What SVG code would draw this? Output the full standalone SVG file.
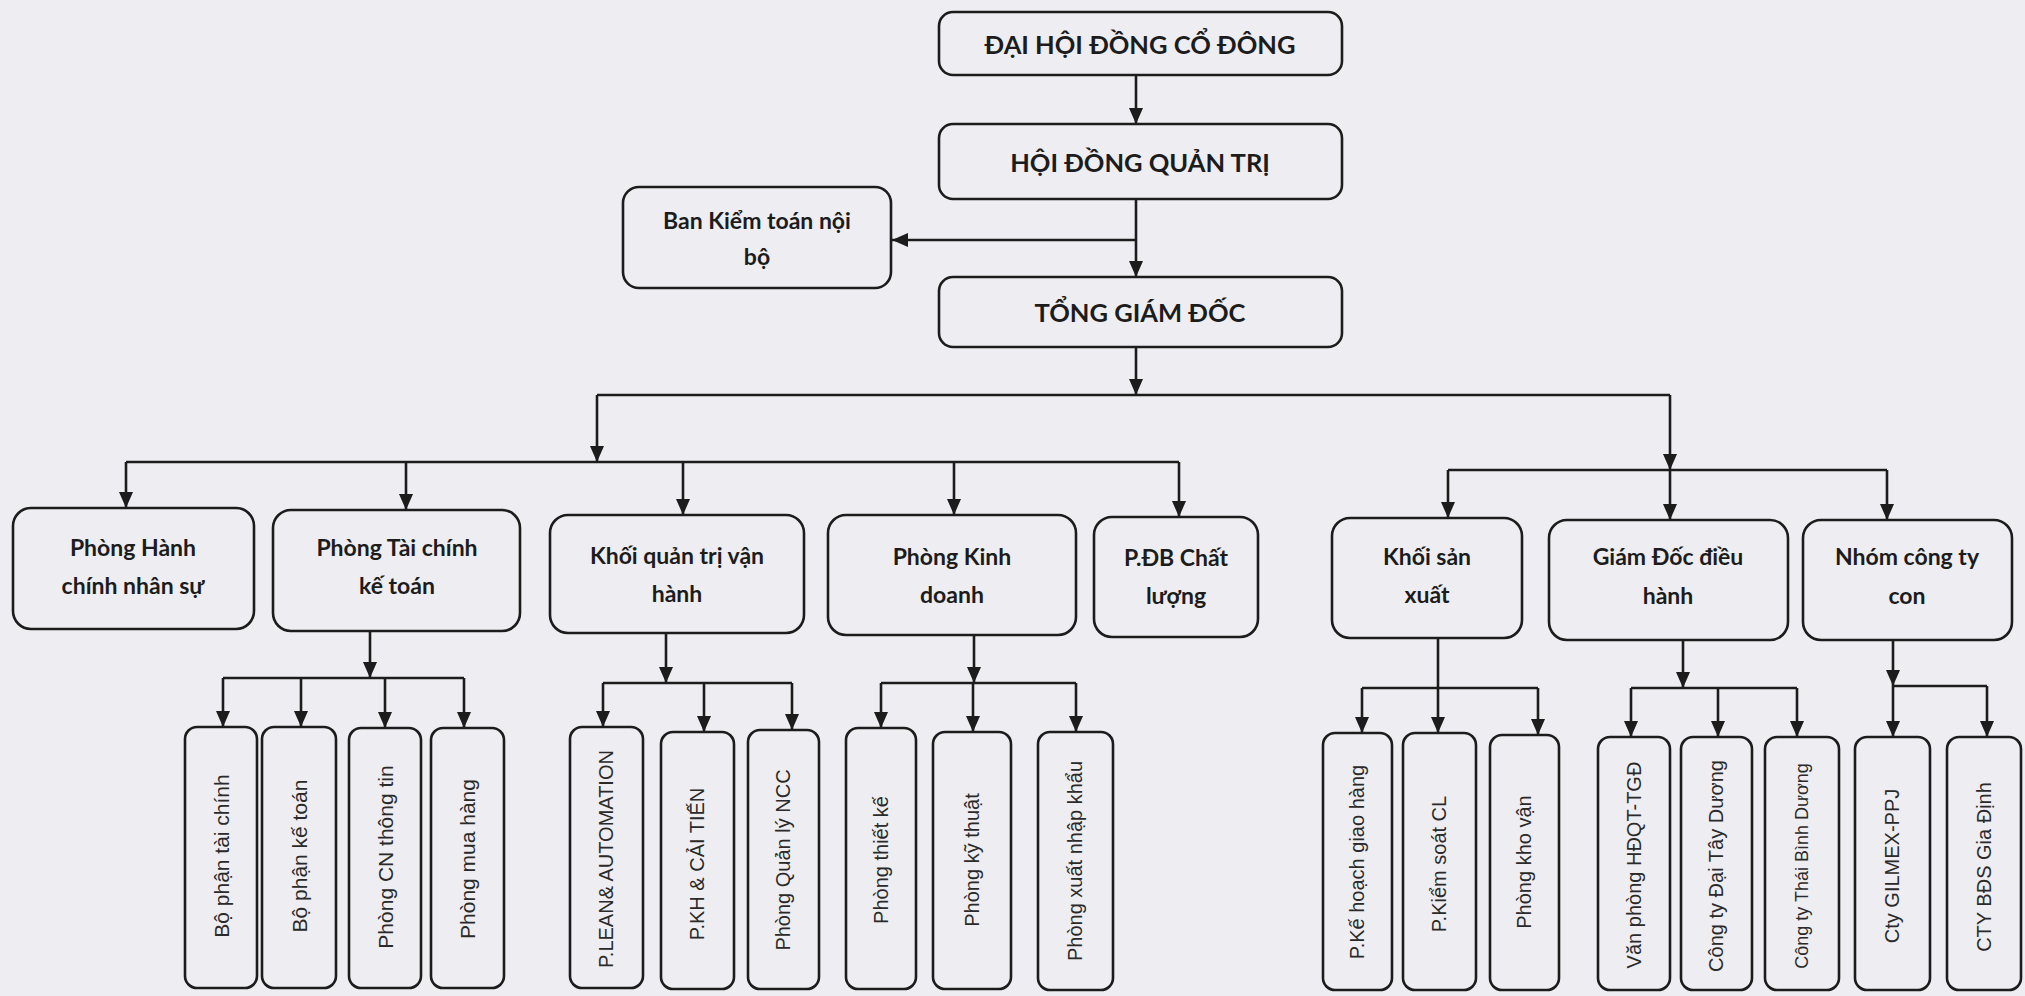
<svg xmlns="http://www.w3.org/2000/svg" width="2025" height="996" viewBox="0 0 2025 996">
<style>
.bg{fill:#eeeef2}
.box{fill:none;stroke:#1c1c1c;stroke-width:2.6}
.c{fill:none;stroke:#1c1c1c;stroke-width:2.6}
.a{marker-end:url(#ah)}
.t1{font-family:Lato,"Noto Sans",sans-serif;font-weight:bold;font-size:25.5px;fill:#1c1c1c;text-anchor:middle}
.t2{font-family:Lato,"Noto Sans",sans-serif;font-weight:bold;font-size:23px;fill:#1c1c1c;text-anchor:middle}
.t3{font-family:"Liberation Sans",Arial,sans-serif;font-size:20px;fill:#2a2a2a;text-anchor:middle;dominant-baseline:central}
.L{font-size:21px}
.S{font-size:18px}
</style>
<defs>
<marker id="ah" markerUnits="userSpaceOnUse" viewBox="0 0 16 14" markerWidth="16" markerHeight="14" refX="16" refY="7" orient="auto">
<path d="M0,0 L16,7 L0,14 z" fill="#1c1c1c"/>
</marker>
</defs>
<rect class="bg" x="0" y="0" width="2025" height="996"/>

<g id="connectors">
<line class="c a" x1="1136" y1="75" x2="1136" y2="124"/>
<line class="c a" x1="1136" y1="199" x2="1136" y2="277"/>
<line class="c a" x1="1136" y1="240" x2="892" y2="240"/>
<line class="c a" x1="1136" y1="347" x2="1136" y2="395"/>
<line class="c" x1="597" y1="395" x2="1670" y2="395"/>
<line class="c a" x1="597" y1="395" x2="597" y2="462"/>
<line class="c" x1="126" y1="462" x2="1179" y2="462"/>
<line class="c a" x1="126" y1="462" x2="126" y2="508"/>
<line class="c a" x1="406" y1="462" x2="406" y2="510"/>
<line class="c a" x1="683" y1="462" x2="683" y2="515"/>
<line class="c a" x1="954" y1="462" x2="954" y2="515"/>
<line class="c a" x1="1179" y1="462" x2="1179" y2="517"/>
<line class="c a" x1="1670" y1="395" x2="1670" y2="470"/>
<line class="c" x1="1448" y1="470" x2="1887" y2="470"/>
<line class="c a" x1="1448" y1="470" x2="1448" y2="518"/>
<line class="c a" x1="1670" y1="470" x2="1670" y2="520"/>
<line class="c a" x1="1887" y1="470" x2="1887" y2="520"/>

<line class="c a" x1="370" y1="631" x2="370" y2="678"/>
<line class="c" x1="223" y1="678" x2="464" y2="678"/>
<line class="c a" x1="223" y1="678" x2="223" y2="727"/>
<line class="c a" x1="301" y1="678" x2="301" y2="727"/>
<line class="c a" x1="385" y1="678" x2="385" y2="728"/>
<line class="c a" x1="464" y1="678" x2="464" y2="728"/>

<line class="c a" x1="666" y1="633" x2="666" y2="683"/>
<line class="c" x1="603" y1="683" x2="792" y2="683"/>
<line class="c a" x1="603" y1="683" x2="603" y2="727"/>
<line class="c a" x1="704" y1="683" x2="704" y2="732"/>
<line class="c a" x1="792" y1="683" x2="792" y2="730"/>

<line class="c a" x1="974" y1="635" x2="974" y2="683"/>
<line class="c" x1="881" y1="683" x2="1076" y2="683"/>
<line class="c a" x1="881" y1="683" x2="881" y2="728"/>
<line class="c a" x1="973" y1="683" x2="973" y2="732"/>
<line class="c a" x1="1076" y1="683" x2="1076" y2="732"/>

<line class="c a" x1="1438" y1="638" x2="1438" y2="733"/>
<line class="c" x1="1362" y1="688" x2="1538" y2="688"/>
<line class="c a" x1="1362" y1="688" x2="1362" y2="733"/>
<line class="c a" x1="1538" y1="688" x2="1538" y2="735"/>

<line class="c a" x1="1683" y1="640" x2="1683" y2="688"/>
<line class="c" x1="1631" y1="688" x2="1797" y2="688"/>
<line class="c a" x1="1631" y1="688" x2="1631" y2="737"/>
<line class="c a" x1="1718" y1="688" x2="1718" y2="737"/>
<line class="c a" x1="1797" y1="688" x2="1797" y2="737"/>

<line class="c a" x1="1893" y1="640" x2="1893" y2="686"/>
<line class="c" x1="1893" y1="686" x2="1987" y2="686"/>
<line class="c a" x1="1893" y1="686" x2="1893" y2="737"/>
<line class="c a" x1="1987" y1="686" x2="1987" y2="737"/>
</g>

<g id="dhdcd"><rect class="box" x="939" y="12" width="403" height="63" rx="14"/><text class="t1" x="1140" y="54">ĐẠI HỘI ĐỒNG CỔ ĐÔNG</text></g>
<g id="hdqt"><rect class="box" x="939" y="124" width="403" height="75" rx="14"/><text class="t1" x="1140" y="172">HỘI ĐỒNG QUẢN TRỊ</text></g>
<g id="bktnb"><rect class="box" x="623" y="187" width="268" height="101" rx="16"/><text class="t2" x="757" y="229">Ban Kiểm toán nội</text><text class="t2" x="757" y="265">bộ</text></g>
<g id="tgd"><rect class="box" x="939" y="277" width="403" height="70" rx="14"/><text class="t1" x="1140" y="322">TỔNG GIÁM ĐỐC</text></g>

<g id="hcns"><rect class="box" x="13" y="508" width="241" height="121" rx="18"/><text class="t2" x="133" y="556">Phòng Hành</text><text class="t2" x="133" y="594">chính nhân sự</text></g>
<g id="tckt"><rect class="box" x="273" y="510" width="247" height="121" rx="18"/><text class="t2" x="397" y="556">Phòng Tài chính</text><text class="t2" x="397" y="594">kế toán</text></g>
<g id="kqtvh"><rect class="box" x="550" y="515" width="254" height="118" rx="18"/><text class="t2" x="677" y="564">Khối quản trị vận</text><text class="t2" x="677" y="602">hành</text></g>
<g id="pkd"><rect class="box" x="828" y="515" width="248" height="120" rx="18"/><text class="t2" x="952" y="565">Phòng Kinh</text><text class="t2" x="952" y="603">doanh</text></g>
<g id="pdbcl"><rect class="box" x="1094" y="517" width="164" height="120" rx="18"/><text class="t2" x="1176" y="566">P.ĐB Chất</text><text class="t2" x="1176" y="604">lượng</text></g>
<g id="ksx"><rect class="box" x="1332" y="518" width="190" height="120" rx="18"/><text class="t2" x="1427" y="565">Khối sản</text><text class="t2" x="1427" y="603">xuất</text></g>
<g id="gddh"><rect class="box" x="1549" y="520" width="239" height="120" rx="18"/><text class="t2" x="1668" y="565">Giám Đốc điều</text><text class="t2" x="1668" y="604">hành</text></g>
<g id="nctc"><rect class="box" x="1803" y="520" width="209" height="120" rx="18"/><text class="t2" x="1907" y="565">Nhóm công ty</text><text class="t2" x="1907" y="604">con</text></g>

<g id="bptc"><rect class="box" x="185" y="727" width="72" height="261" rx="12"/><text class="t3 L" transform="translate(221,856) rotate(-90)">Bộ phận tài chính</text></g>
<g id="bpkt"><rect class="box" x="262" y="727" width="74" height="261" rx="12"/><text class="t3 L" transform="translate(299,856) rotate(-90)">Bộ phận kế toán</text></g>
<g id="pcntt"><rect class="box" x="349" y="728" width="72" height="260" rx="12"/><text class="t3 L" transform="translate(385,857) rotate(-90)">Phòng CN thông tin</text></g>
<g id="pmh"><rect class="box" x="431" y="728" width="73" height="260" rx="12"/><text class="t3 L" transform="translate(467,859) rotate(-90)">Phòng mua hàng</text></g>
<g id="plean"><rect class="box" x="570" y="727" width="73" height="261" rx="12"/><text class="t3" transform="translate(606,859) rotate(-90)">P.LEAN&amp; AUTOMATION</text></g>
<g id="pkhct"><rect class="box" x="661" y="732" width="73" height="257" rx="12"/><text class="t3" transform="translate(697,864) rotate(-90)">P.KH &amp; CẢI TIẾN</text></g>
<g id="pqlncc"><rect class="box" x="748" y="730" width="71" height="259" rx="12"/><text class="t3" transform="translate(783,860) rotate(-90)">Phòng Quản lý NCC</text></g>
<g id="ptk"><rect class="box" x="846" y="728" width="70" height="261" rx="12"/><text class="t3" transform="translate(881,860) rotate(-90)">Phòng thiết kế</text></g>
<g id="pkythuat"><rect class="box" x="933" y="732" width="78" height="257" rx="12"/><text class="t3" transform="translate(972,860) rotate(-90)">Phòng kỹ thuật</text></g>
<g id="pxnk"><rect class="box" x="1038" y="732" width="75" height="258" rx="12"/><text class="t3" transform="translate(1075,861) rotate(-90)">Phòng xuất nhập khẩu</text></g>
<g id="pkhgh"><rect class="box" x="1323" y="733" width="69" height="257" rx="12"/><text class="t3" transform="translate(1357,862) rotate(-90)">P.Kế hoạch giao hàng</text></g>
<g id="pkscl"><rect class="box" x="1403" y="733" width="73" height="257" rx="12"/><text class="t3" transform="translate(1439,864) rotate(-90)">P.Kiểm soát CL</text></g>
<g id="pkv"><rect class="box" x="1490" y="735" width="69" height="255" rx="12"/><text class="t3" transform="translate(1524,862) rotate(-90)">Phòng kho vận</text></g>
<g id="vphdqt"><rect class="box" x="1598" y="737" width="72" height="253" rx="12"/><text class="t3" transform="translate(1634,865) rotate(-90)">Văn phòng HĐQT-TGĐ</text></g>
<g id="ctdtd"><rect class="box" x="1681" y="737" width="71" height="253" rx="12"/><text class="t3" transform="translate(1716,866) rotate(-90)">Công ty Đại Tây Dương</text></g>
<g id="cttbd"><rect class="box" x="1765" y="737" width="74" height="253" rx="12"/><text class="t3 S" transform="translate(1802,866) rotate(-90)">Công ty Thái Bình Dương</text></g>
<g id="gilmex"><rect class="box" x="1855" y="737" width="75" height="253" rx="12"/><text class="t3" transform="translate(1892,866) rotate(-90)">Cty GILMEX-PPJ</text></g>
<g id="bdsgd"><rect class="box" x="1947" y="737" width="74" height="253" rx="12"/><text class="t3" transform="translate(1984,867) rotate(-90)">CTY BĐS Gia Định</text></g>
</svg>
